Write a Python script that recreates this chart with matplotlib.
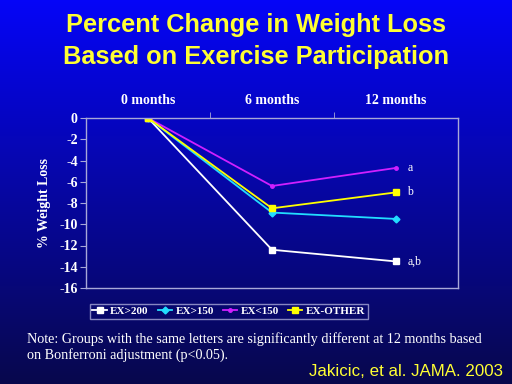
import numpy as np
import matplotlib
matplotlib.use("Agg")
import matplotlib.pyplot as plt

# data
months = ["0 months", "6 months", "12 months"]
ex_gt200 = [0, -12.4, -13.5]
ex_gt150 = [0, -8.9, -9.5]
ex_lt150 = [0, -6.4, -4.7]
ex_other = [0, -8.5, -7.0]
y_ticks = [0, -2, -4, -6, -8, -10, -12, -14, -16]
sig_labels = ["a,b", None, "a", "b"]

fig = plt.figure(figsize=(5.12, 3.84), dpi=100)

# gradient background
bg = fig.add_axes([0, 0, 1, 1])
grad = np.linspace(0, 1, 256).reshape(-1, 1)
top = np.array([0.02, 0.02, 0.97])
bot = np.array([0.03, 0.03, 0.30])
img = top[None, None, :] * (1 - grad[:, :, None]) + bot[None, None, :] * grad[:, :, None]
bg.imshow(img, aspect="auto", extent=[0, 1, 0, 1])
bg.axis("off")

serif = ["Liberation Serif", "DejaVu Serif"]
sans = ["Liberation Sans", "DejaVu Sans"]
edge = "#a8a8d8"

ax = fig.add_axes([86 / 512, 1 - 288 / 384, (458 - 86) / 512, (288 - 118) / 384])
ax.set_facecolor("none")
x = np.arange(len(months))

series = [
    ("EX>200", ex_gt200, "white", "s", 4.5),
    ("EX>150", ex_gt150, "#22ddff", "D", 3.5),
    ("EX<150", ex_lt150, "#d020ff", "o", 2.5),
    ("EX-OTHER", ex_other, "#ffff00", "s", 5),
]
for (name, vals, col, mk, ms), lab in zip(series, sig_labels):
    ax.plot(x, vals, color=col, lw=1.3, marker=mk, ms=ms, mec=col, mfc=col, label=name)
    if lab:
        ax.text(x[-1] + 0.09, vals[-1], lab, color="white", fontsize=8.5,
                family=serif, va="center", ha="left")

ax.set_xlim(-0.5, 2.5)
ax.set_ylim(-16, 0)
ax.set_yticks(y_ticks)
ax.set_yticklabels([str(t) for t in y_ticks], color="white", fontsize=10,
                   fontweight="bold", family=serif)
ax.xaxis.tick_top()
ax.set_xticks(x)
ax.set_xticklabels(months, color="white", fontsize=10, fontweight="bold", family=serif)
ax.tick_params(axis="x", length=0, pad=8)
ax.set_xticks([0.5, 1.5], minor=True)
ax.tick_params(axis="x", which="minor", length=4, color=edge, direction="out")
ax.tick_params(axis="y", length=4, color=edge, direction="out", pad=2)
for s in ax.spines.values():
    s.set_color(edge)
    s.set_linewidth(1)
ax.set_ylabel("% Weight Loss", color="white", fontsize=10, fontweight="bold",
              family=serif, labelpad=6)

leg = ax.legend(loc="upper left", bbox_to_anchor=(-0.005, -0.06), ncol=4,
                frameon=True, fancybox=False, handlelength=1.3,
                handletextpad=0.3, columnspacing=0.8, borderpad=0.25,
                prop={"family": serif, "weight": "bold", "size": 8})
leg.get_frame().set_facecolor("none")
leg.get_frame().set_edgecolor(edge)
for t in leg.get_texts():
    t.set_color("white")

fig.text(0.5, 1 - 41 / 384, "Percent Change in Weight Loss\nBased on Exercise Participation",
         ha="center", va="center", color="#ffff33", fontsize=18.3, fontweight="bold",
         family=sans, linespacing=1.45)
fig.text(27 / 512, 1 - 347 / 384,
         "Note: Groups with the same letters are significantly different at 12 months based\n"
         "on Bonferroni adjustment (p<0.05).",
         ha="left", va="center", color="white", fontsize=10.2, family=serif, linespacing=1.15)
fig.text(503 / 512, 1 - 372 / 384, "Jakicic, et al. JAMA. 2003", ha="right", va="center",
         color="#ffff33", fontsize=12.2, family=sans)

fig.savefig("out.png", dpi=100)
